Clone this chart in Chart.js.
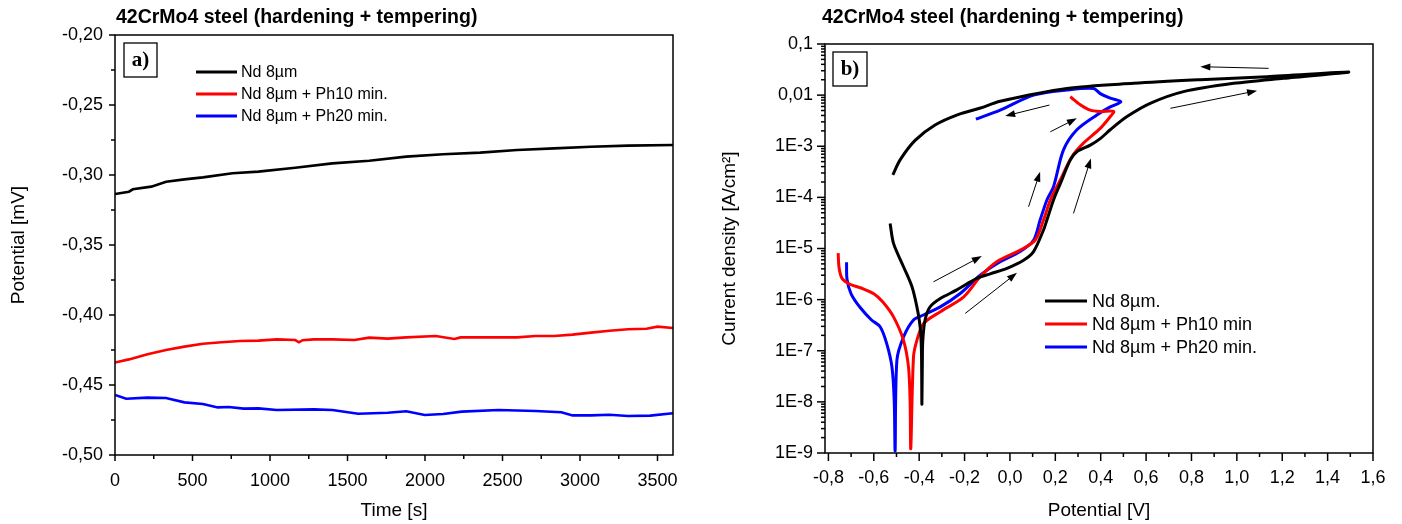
<!DOCTYPE html>
<html><head><meta charset="utf-8">
<script src="https://cdn.jsdelivr.net/npm/chart.js@4.4.1/dist/chart.umd.min.js"></script>
<style>
html,body{margin:0;padding:0;background:#fff;width:1402px;height:524px;overflow:hidden}
#ca{position:absolute;left:0;top:0}
#cb{position:absolute;left:700px;top:0}
</style></head><body>
<canvas id="ca" width="700" height="524"></canvas>
<canvas id="cb" width="702" height="524"></canvas>
<script>
// ---------- Panel a) : open circuit potential vs time ----------
const titleText = '42CrMo4 steel (hardening + tempering)';
const labelsA = ['Nd 8µm', 'Nd 8µm + Ph10 min.', 'Nd 8µm + Ph20 min.'];
const ndTime = [0,90,115,234,330,448,567,758,925,1163,1402,1640,1879,2117,2356,2594,2833,3071,3310,3600];
const ndPot  = [-0.3136,-0.3119,-0.3102,-0.3083,-0.3048,-0.3031,-0.3017,-0.2988,-0.2976,-0.2948,-0.2917,-0.2898,-0.2869,-0.2852,-0.2840,-0.2821,-0.2810,-0.2798,-0.2790,-0.2786];
const ph10Time = [0,90,210,329,448,567,687,806,925,1044,1163,1187,1210,1283,1402,1545,1640,1760,1879,2070,2189,2230,2356,2594,2713,2833,2952,3071,3190,3310,3429,3500,3600];
const ph10Pot  = [-0.4340,-0.4317,-0.4281,-0.4250,-0.4226,-0.4205,-0.4195,-0.4186,-0.4183,-0.4174,-0.4179,-0.4195,-0.4180,-0.4174,-0.4174,-0.4179,-0.4162,-0.4169,-0.4160,-0.4150,-0.4171,-0.4160,-0.4160,-0.4160,-0.4150,-0.4150,-0.4140,-0.4126,-0.4112,-0.4102,-0.4098,-0.4083,-0.4093];
const ph20Time = [0,72,210,329,448,567,663,734,830,925,1044,1283,1402,1569,1760,1879,1998,2117,2237,2475,2713,2880,2952,3071,3190,3310,3453,3600];
const ph20Pot  = [-0.4571,-0.4598,-0.4590,-0.4593,-0.4624,-0.4636,-0.4660,-0.4657,-0.4669,-0.4667,-0.4679,-0.4674,-0.4679,-0.4705,-0.4698,-0.4688,-0.4714,-0.4707,-0.4690,-0.4679,-0.4686,-0.4695,-0.4717,-0.4717,-0.4712,-0.4721,-0.4719,-0.4702];
const timeTicks = [0,250,500,750,1000,1250,1500,1750,2000,2250,2500,2750,3000,3250,3500];
const timeLabels = [0,500,1000,1500,2000,2500,3000,3500];
const potTicks = [-0.50,-0.475,-0.45,-0.425,-0.40,-0.375,-0.35,-0.325,-0.30,-0.275,-0.25,-0.225,-0.20];
const potLabels = [-0.50,-0.45,-0.40,-0.35,-0.30,-0.25,-0.20];

// ---------- Panel b) : potentiodynamic polarization ----------
const labelsB = ['Nd 8µm.', 'Nd 8µm + Ph10 min', 'Nd 8µm + Ph20 min.'];
const ndV = [-0.528,-0.513,-0.469,-0.432,-0.410,-0.396,-0.390,-0.388,-0.386,-0.384,-0.374,-0.352,-0.307,-0.234,-0.146,-0.087,-0.013,0.060,0.104,0.148,0.163,0.192,0.222,0.266,0.295,0.354,0.398,0.442,0.516,0.618,0.765,0.986,1.206,1.493,1.133,0.839,0.545,0.251,-0.043,-0.130,-0.226,-0.330,-0.418,-0.484,-0.516];
const ndI = [3.1e-5,1.26e-5,4.4e-6,1.8e-6,7.2e-7,3.0e-7,1.0e-7,9e-9,6e-8,1.6e-7,4.0e-7,7.2e-7,1.05e-6,1.55e-6,2.6e-6,3.2e-6,4.1e-6,5.9e-6,8.7e-6,2.3e-5,3.6e-5,8.9e-5,1.86e-4,5.4e-4,7.8e-4,1.05e-3,1.41e-3,2.1e-3,3.8e-3,6.9e-3,1.17e-2,1.70e-2,2.14e-2,2.82e-2,2.29e-2,2.00e-2,1.70e-2,1.35e-2,7.6e-3,5.6e-3,4.2e-3,2.6e-3,1.3e-3,5.4e-4,2.75e-4];
const ph10V = [-0.757,-0.753,-0.740,-0.705,-0.650,-0.600,-0.560,-0.513,-0.469,-0.447,-0.440,-0.437,-0.425,-0.410,-0.381,-0.307,-0.205,-0.131,-0.058,0.045,0.111,0.148,0.178,0.222,0.273,0.324,0.398,0.442,0.457,0.398,0.354,0.310,0.266];
const ph10I = [8.1e-6,4.2e-6,2.6e-6,2.0e-6,1.65e-6,1.3e-6,9.0e-7,4.6e-7,1.6e-7,4.8e-8,1.07e-8,1.23e-9,7.6e-8,1.6e-7,3.4e-7,5.8e-7,1.12e-6,2.8e-6,5.5e-6,9.3e-6,1.45e-5,3.6e-5,8.9e-5,2.2e-4,6.2e-4,1.15e-3,2.24e-3,3.8e-3,4.8e-3,4.8e-3,5.1e-3,6.5e-3,9.3e-3];
const ph20V = [-0.720,-0.718,-0.700,-0.660,-0.610,-0.572,-0.543,-0.520,-0.510,-0.506,-0.498,-0.469,-0.425,-0.381,-0.307,-0.219,-0.131,-0.043,0.045,0.104,0.133,0.163,0.192,0.236,0.295,0.383,0.442,0.489,0.442,0.398,0.369,0.251,0.104,-0.043,-0.150];
const ph20I = [5.4e-6,2.5e-6,1.3e-6,7.0e-7,4.0e-7,2.95e-7,1.38e-7,4.8e-8,1.07e-8,1.1e-9,6.6e-8,1.86e-7,4.0e-7,5.0e-7,7.2e-7,1.32e-6,3.0e-6,5.5e-6,8.7e-6,1.45e-5,3.6e-5,8.9e-5,1.62e-4,8.5e-4,2.1e-3,4.1e-3,5.9e-3,7.4e-3,8.7e-3,1.07e-2,1.35e-2,1.26e-2,1.00e-2,5.1e-3,3.4e-3];
const potVTicks = [-0.8,-0.7,-0.6,-0.5,-0.4,-0.3,-0.2,-0.1,0.0,0.1,0.2,0.3,0.4,0.5,0.6,0.7,0.8,0.9,1.0,1.1,1.2,1.3,1.4,1.5,1.6];
const potVLabels = [-0.8,-0.6,-0.4,-0.2,0.0,0.2,0.4,0.6,0.8,1.0,1.2,1.4,1.6];
const currentDecades = [1e-9,1e-8,1e-7,1e-6,1e-5,1e-4,1e-3,1e-2,1e-1];
const currentLabels = ['1E-9','1E-8','1E-7','1E-6','1E-5','1E-4','1E-3','0,01','0,1'];
// scan-direction arrows (potential V, current density) : [fromV, fromI, toV, toI]
const scanArrows = [
  [1.140, 3.34e-2, 0.839, 3.60e-2],
  [0.707, 5.52e-3, 1.089, 1.22e-2],
  [0.174, 6.40e-3, -0.021, 3.90e-3],
  [0.178, 1.92e-3, 0.295, 3.52e-3],
  [0.082, 6.55e-5, 0.133, 3.17e-4],
  [0.280, 4.86e-5, 0.357, 5.79e-4],
  [-0.337, 2.23e-6, -0.124, 7.10e-6],
  [-0.197, 5.37e-7, 0.031, 3.34e-6]
];

const SANS = "'Liberation Sans', Arial, sans-serif";
const SERIF = "'Liberation Serif', 'Times New Roman', serif";
const BLACK = '#000000', RED = '#ff0000', BLUE = '#0000ff';
const comma = s => s.replace('.', ',');
const pts = (xs, ys) => xs.map((x, i) => ({x, y: ys[i]}));

function arrow(ctx, x1, y1, x2, y2) {
  const a = Math.atan2(y2 - y1, x2 - x1), L = 10, W = 3.5;
  ctx.beginPath(); ctx.moveTo(x1, y1);
  ctx.lineTo(x2 - L * 0.8 * Math.cos(a), y2 - L * 0.8 * Math.sin(a)); ctx.stroke();
  ctx.beginPath(); ctx.moveTo(x2, y2);
  ctx.lineTo(x2 - L * Math.cos(a) + W * Math.sin(a), y2 - L * Math.sin(a) - W * Math.cos(a));
  ctx.lineTo(x2 - L * Math.cos(a) - W * Math.sin(a), y2 - L * Math.sin(a) + W * Math.cos(a));
  ctx.closePath(); ctx.fill();
}

const extras = {
  id: 'extras',
  afterDraw(chart, args, o) {
    const ctx = chart.ctx, ca = chart.chartArea;
    const xs = chart.scales.x, ys = chart.scales.y;
    ctx.save();
    ctx.strokeStyle = BLACK; ctx.fillStyle = BLACK; ctx.lineWidth = 1.5;
    ctx.strokeRect(ca.left, ca.top, ca.right - ca.left, ca.bottom - ca.top);
    o.xTicks.forEach(v => {
      const px = xs.getPixelForValue(v);
      const len = o.xMajor.some(m => Math.abs(m - v) < 1e-9) ? o.majorLen : o.minorLen;
      ctx.beginPath(); ctx.moveTo(px, ca.bottom); ctx.lineTo(px, ca.bottom + len); ctx.stroke();
    });
    o.yTicks.forEach(v => {
      const py = ys.getPixelForValue(v);
      const len = o.yMajor.some(m => Math.abs(m - v) / Math.abs(m || 1) < 1e-6) ? o.majorLen : o.minorLen;
      ctx.beginPath(); ctx.moveTo(ca.left, py); ctx.lineTo(ca.left - len, py); ctx.stroke();
    });
    ctx.font = 'bold 19.5px ' + SANS; ctx.textBaseline = 'middle'; ctx.textAlign = 'left';
    ctx.fillText(titleText, o.titleX, o.titleY);
    const b = o.box;
    ctx.lineWidth = 1.3;
    ctx.strokeRect(b.x, b.y, b.w, b.h);
    ctx.font = 'bold 21px ' + SERIF; ctx.textAlign = 'center';
    ctx.fillText(b.text, b.x + b.w / 2, b.y + b.h / 2 + 1);
    const lg = o.legend;
    ctx.font = lg.size + 'px ' + SANS; ctx.textAlign = 'left';
    chart.data.datasets.forEach((ds, i) => {
      const y = lg.ys[i];
      ctx.strokeStyle = ds.borderColor; ctx.lineWidth = 3;
      ctx.beginPath(); ctx.moveTo(lg.x1, y); ctx.lineTo(lg.x2, y); ctx.stroke();
      ctx.fillStyle = BLACK;
      ctx.fillText(ds.label, lg.tx, y + 1);
    });
    if (o.arrows) {
      ctx.strokeStyle = BLACK; ctx.fillStyle = BLACK; ctx.lineWidth = 1;
      o.arrows.forEach(a => arrow(ctx, xs.getPixelForValue(a[0]), ys.getPixelForValue(a[1]),
                                        xs.getPixelForValue(a[2]), ys.getPixelForValue(a[3])));
    }
    ctx.restore();
  }
};

const dsStyle = (c, t, w) => ({borderColor: c, backgroundColor: c, borderWidth: w, pointRadius: 0, showLine: true, tension: t, fill: false});

new Chart(document.getElementById('ca'), {
  type: 'scatter',
  data: {datasets: [
    {label: labelsA[0], data: pts(ndTime, ndPot), ...dsStyle(BLACK, 0, 2.6)},
    {label: labelsA[1], data: pts(ph10Time, ph10Pot), ...dsStyle(RED, 0, 2.6)},
    {label: labelsA[2], data: pts(ph20Time, ph20Pot), ...dsStyle(BLUE, 0, 2.6)}
  ]},
  options: {
    responsive: false, animation: false, devicePixelRatio: 1,
    layout: {padding: {top: 35, right: 27, left: 0, bottom: 0}},
    plugins: {legend: {display: false}, tooltip: {enabled: false},
      extras: {xTicks: timeTicks, xMajor: timeLabels, yTicks: potTicks, yMajor: potLabels,
        majorLen: 6, minorLen: 4, titleX: 116, titleY: 18,
        box: {x: 124, y: 43, w: 33, h: 34, text: 'a)'},
        legend: {x1: 196, x2: 237, tx: 241, ys: [72, 94, 116], size: 16}}},
    scales: {
      x: {type: 'linear', min: 0, max: 3600,
        grid: {display: false, drawTicks: false}, border: {display: false},
        afterBuildTicks: s => { s.ticks = timeTicks.map(v => ({value: v})); },
        afterFit: s => { s.height = 69; },
        ticks: {autoSkip: false, maxRotation: 0, padding: 15, color: BLACK, font: {family: SANS, size: 18},
          callback: v => timeLabels.includes(v) ? String(v) : ''},
        title: {display: true, text: 'Time [s]', color: BLACK, font: {family: SANS, size: 19}, padding: {top: 0, bottom: 2}}},
      y: {type: 'linear', min: -0.50, max: -0.20,
        grid: {display: false, drawTicks: false}, border: {display: false},
        afterBuildTicks: s => { s.ticks = potTicks.map(v => ({value: v})); },
        afterFit: s => { s.width = 115; },
        ticks: {autoSkip: false, padding: 12, color: BLACK, font: {family: SANS, size: 18},
          callback: v => potLabels.some(m => Math.abs(m - v) < 1e-9) ? comma(v.toFixed(2)) : ''},
        title: {display: true, text: 'Potential [mV]', color: BLACK, font: {family: SANS, size: 19}, padding: {top: 7, bottom: 0}}}
    }
  },
  plugins: [extras]
});

const minorCurrent = [];
currentDecades.slice(0, -1).forEach(d => { for (let k = 1; k <= 9; k++) minorCurrent.push(d * k); });
minorCurrent.push(0.1);

new Chart(document.getElementById('cb'), {
  type: 'scatter',
  data: {datasets: [
    {label: labelsB[0], data: pts(ndV, ndI), ...dsStyle(BLACK, 0.3, 3)},
    {label: labelsB[1], data: pts(ph10V, ph10I), ...dsStyle(RED, 0.3, 3)},
    {label: labelsB[2], data: pts(ph20V, ph20I), ...dsStyle(BLUE, 0.3, 3)}
  ]},
  options: {
    responsive: false, animation: false, devicePixelRatio: 1,
    layout: {padding: {top: 44, right: 29, left: 0, bottom: 0}},
    plugins: {legend: {display: false}, tooltip: {enabled: false},
      extras: {xTicks: potVTicks, xMajor: potVLabels, yTicks: minorCurrent, yMajor: currentDecades,
        majorLen: 8, minorLen: 4, titleX: 122, titleY: 18,
        box: {x: 133, y: 52, w: 34, h: 34, text: 'b)'},
        legend: {x1: 345, x2: 387, tx: 392, ys: [301, 324, 347], size: 18},
        arrows: scanArrows}},
    scales: {
      x: {type: 'linear', min: -0.815, max: 1.6,
        grid: {display: false, drawTicks: false}, border: {display: false},
        afterBuildTicks: s => { s.ticks = potVTicks.map(v => ({value: v})); },
        afterFit: s => { s.height = 71; },
        ticks: {autoSkip: false, maxRotation: 0, padding: 14, color: BLACK, font: {family: SANS, size: 18},
          callback: v => potVLabels.some(m => Math.abs(m - v) < 1e-9) ? comma(v.toFixed(1)) : ''},
        title: {display: true, text: 'Potential [V]', color: BLACK, font: {family: SANS, size: 19}, padding: {top: 0, bottom: 2}}},
      y: {type: 'logarithmic', min: 1e-9, max: 0.1,
        grid: {display: false, drawTicks: false}, border: {display: false},
        afterBuildTicks: s => { s.ticks = currentDecades.map(v => ({value: v})); },
        afterFit: s => { s.width = 125; },
        ticks: {autoSkip: false, padding: 12, color: BLACK, font: {family: SANS, size: 18},
          callback: v => { const i = currentDecades.findIndex(d => Math.abs(d - v) / d < 1e-6); return i >= 0 ? currentLabels[i] : ''; }},
        title: {display: true, text: 'Current density [A/cm²]', color: BLACK, font: {family: SANS, size: 19}, padding: {top: 18, bottom: 0}}}
    }
  },
  plugins: [extras]
});
</script>
</body></html>
